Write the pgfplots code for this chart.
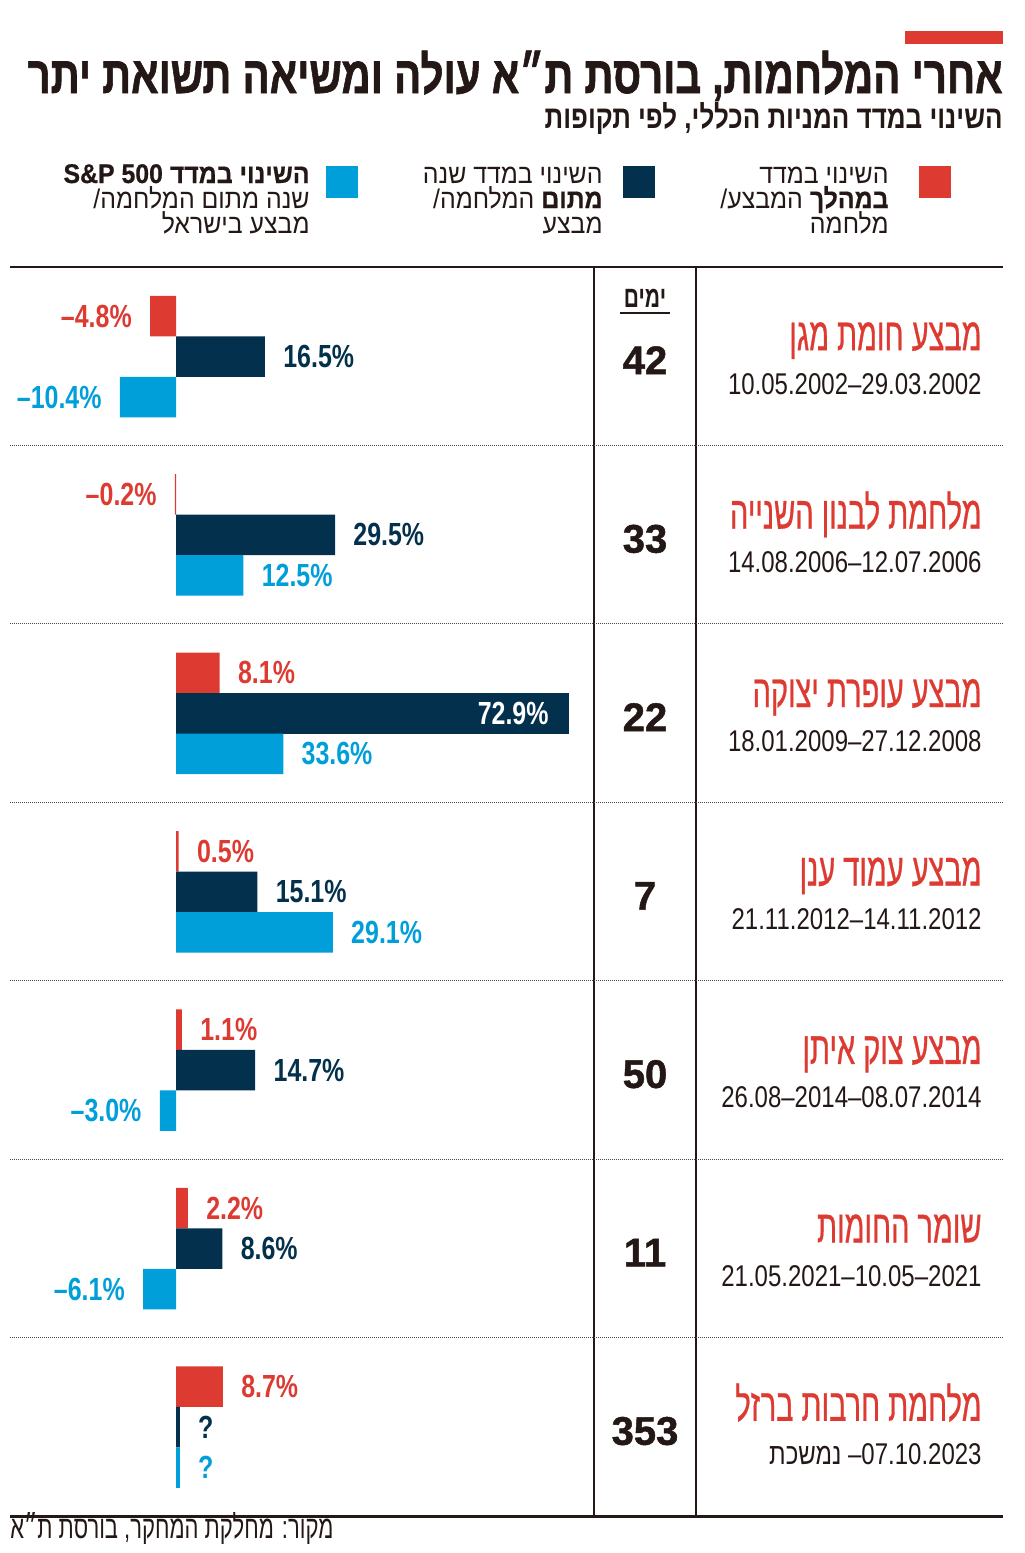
\documentclass[border=0pt]{standalone}
\usepackage{fontspec}
\usepackage{graphicx}
\usepackage{pgfplots}
\pgfplotsset{compat=1.18}
\TeXXeTstate=1
\setmainfont{Liberation Sans}
\newfontfamily\hebreg[Script=Hebrew]{Liberation Sans}
\newfontfamily\hebbold[Script=Hebrew]{Liberation Sans Bold}
\newfontfamily\hebtitle[Script=Hebrew,FakeBold=1.4]{Liberation Sans Bold}
\newfontfamily\hebrow[Script=Hebrew,FakeStretch=0.63,FakeBold=0.6]{Liberation Sans}
\newfontfamily\hebleg[Script=Hebrew,FakeStretch=0.92]{Liberation Sans}
\newfontfamily\heblegb[Script=Hebrew,FakeStretch=0.92,FakeBold=0.6]{Liberation Sans Bold}
\newfontfamily\hebdays[Script=Hebrew,FakeStretch=0.7]{Liberation Sans Bold}
\newfontfamily\numlab[FakeStretch=0.78]{Liberation Sans Bold}
\newfontfamily\numdate[FakeStretch=0.8]{Liberation Sans}
\newfontfamily\hebdate[Script=Hebrew,FakeStretch=0.8]{Liberation Sans}
\newfontfamily\numday[FakeBold=1.2]{Liberation Sans Bold}
\definecolor{cred}{RGB}{221,58,50}
\definecolor{cnavy}{RGB}{3,49,77}
\definecolor{cblue}{RGB}{0,159,218}
\definecolor{ctext}{RGB}{35,24,21}

\pgfplotsset{
  mybar/.style={xbar, bar width=0.227, draw=none, fill=#1,
    nodes near coords, point meta=explicit symbolic,
    every node near coord/.append style={inner sep=0pt,
      text=#1, font=\numlab\fontsize{16pt}{16pt}\selectfont}},
  labW/.style={every node near coord/.append style={anchor=west, xshift=#1}},
  labE/.style={every node near coord/.append style={anchor=east, xshift=#1}},
  labY/.style={every node near coord/.append style={yshift=#1}},
}

\begin{document}
\begin{tikzpicture}
\begin{axis}[
  at={(0,0)}, anchor=north west,
  scale only axis, width=512pt, height=776.5pt,
  xmin=-32.653, xmax=157.33, ymin=-1.998, ymax=6.706, y dir=reverse,
  hide axis, clip=false,
]
% change during the operation / war (red)
\addplot[mybar=cred, bar shift=-0.227, labE=-9pt, labY=20.25pt] coordinates
  {(-4.8,0) [–4.8\%] (-0.2,1) [–0.2\%]};
\addplot[mybar=cred, bar shift=-0.227, labW=9pt, labY=20.25pt] coordinates
  {(8.1,2) [8.1\%] (0.5,3) [0.5\%] (1.1,4) [1.1\%] (2.2,5) [2.2\%] (8.7,6) [8.7\%]};
% change one year after the war (navy)
\addplot[mybar=cnavy, bar shift=0, labW=9pt] coordinates
  {(16.5,0) [16.5\%] (29.5,1) [29.5\%] (15.1,3) [15.1\%] (14.7,4) [14.7\%] (8.6,5) [8.6\%] (0.7,6) [?]};
\addplot[mybar=cnavy, bar shift=0, labE=-10pt, every node near coord/.append style={text=white}] coordinates
  {(72.9,2) [72.9\%]};
% S&P 500 one year after (blue)
\addplot[mybar=cblue, bar shift=0.227, labE=-9pt, labY=-20.25pt] coordinates
  {(-10.4,0) [–10.4\%] (-3.0,4) [–3.0\%] (-6.1,5) [–6.1\%]};
\addplot[mybar=cblue, bar shift=0.227, labW=9pt, labY=-20.25pt] coordinates
  {(12.5,1) [12.5\%] (19.9,2) [33.6\%] (29.1,3) [29.1\%] (0.7,6) [?]};
\end{axis}

\begin{scope}[x=0.5pt, y=-0.5pt]
  % top accent
  \fill[cred] (905,31) rectangle (1003,44);
  % title
  \node[anchor=base east, inner sep=0, text=ctext] at (1003,93)
    {\resizebox{487.5pt}{\height}{\hebtitle\fontsize{26pt}{26pt}\selectfont\beginR אחרי המלחמות, בורסת ת״א עולה ומשיאה תשואת יתר\endR}};
  \node[anchor=base east, inner sep=0, text=ctext] at (1003,128)
    {\resizebox{229pt}{\height}{\hebbold\fontsize{16pt}{16pt}\selectfont\beginR השינוי במדד המניות הכללי, לפי תקופות\endR}};
  % legend
  \fill[cred] (919,166) rectangle (951,198);
  \fill[cnavy] (623,166) rectangle (655,198);
  \fill[cblue] (326,166) rectangle (358,198);
  \begin{scope}[every node/.style={anchor=base east, inner sep=0, text=ctext, font=\hebleg\fontsize{13.5pt}{14pt}\selectfont}]
    \node at (889,183) {\beginR השינוי במדד\endR};
    \node at (889,208) {\beginR{\heblegb במהלך} המבצע/\endR};
    \node at (889,233) {\beginR מלחמה\endR};
    \node at (603,183) {\beginR השינוי במדד שנה\endR};
    \node at (603,208) {\beginR{\heblegb מתום} המלחמה/\endR};
    \node at (603,233) {\beginR מבצע\endR};
    \node at (310,183) {\beginR{\heblegb השינוי במדד \beginL S\&P 500\endL}\endR};
    \node at (310,208) {\beginR שנה מתום המלחמה/\endR};
    \node at (310,233) {\beginR מבצע בישראל\endR};
  \end{scope}
  % table rules
  \draw[ctext, line width=1pt] (10,267) -- (1003,267);
  \draw[ctext, line width=1.5pt] (10,1516) -- (1003,1516);
  \draw[ctext, line width=0.8pt] (594,267) -- (594,1516);
  \draw[ctext, line width=0.8pt] (696,267) -- (696,1516);
  \foreach \k in {1,...,6}{
    \draw[ctext!80, line width=0.5pt, dash pattern=on 0.4pt off 0.6pt] (10,267+178.43*\k) -- (1003,267+178.43*\k);
  }
  % days header
  \node[anchor=base, inner sep=0, text=ctext, font=\hebdays\fontsize{15pt}{15pt}\selectfont] at (645,307) {\beginR ימים\endR};
  \draw[ctext, line width=0.6pt] (620,313) -- (670,313);
  % rows
  \foreach \ri/\rt/\rd/\rn in {
    0/{מבצע חומת מגן}/{10.05.2002–29.03.2002}/42,
    1/{מלחמת לבנון השנייה}/{14.08.2006–12.07.2006}/33,
    2/{מבצע עופרת יצוקה}/{18.01.2009–27.12.2008}/22,
    3/{מבצע עמוד ענן}/{21.11.2012–14.11.2012}/7,
    4/{מבצע צוק איתן}/{26.08–2014–08.07.2014}/50,
    5/{שומר החומות}/{21.05.2021–10.05–2021}/11,
    6/{מלחמת חרבות ברזל}/{{\hebdate\beginR נמשכת\endR}\ –07.10.2023}/353}{
    \pgfmathsetmacro\cc{267+178.43*(\ri+0.5)}
    \node[anchor=base east, inner sep=0, text=cred, font=\hebrow\fontsize{23pt}{23pt}\selectfont] at (982,\cc-6) {\beginR\rt\endR};
    \node[anchor=base east, inner sep=0, text=ctext, font=\numdate\fontsize{15pt}{15pt}\selectfont] at (982,\cc+38) {\rd};
    \node[anchor=base, inner sep=0, text=ctext, font=\numday\fontsize{20pt}{20pt}\selectfont] at (645,\cc+18) {\rn};
  }
  % source
  \node[anchor=base west, inner sep=0, text=ctext] at (10,1538)
    {\resizebox{161.5pt}{\height}{\hebreg\fontsize{16pt}{16pt}\selectfont\beginR מקור: מחלקת המחקר, בורסת ת״א\endR}};
\end{scope}
\pgfresetboundingbox
\path[use as bounding box] (0,0) rectangle (512pt,-776.5pt);
\end{tikzpicture}
\end{document}
